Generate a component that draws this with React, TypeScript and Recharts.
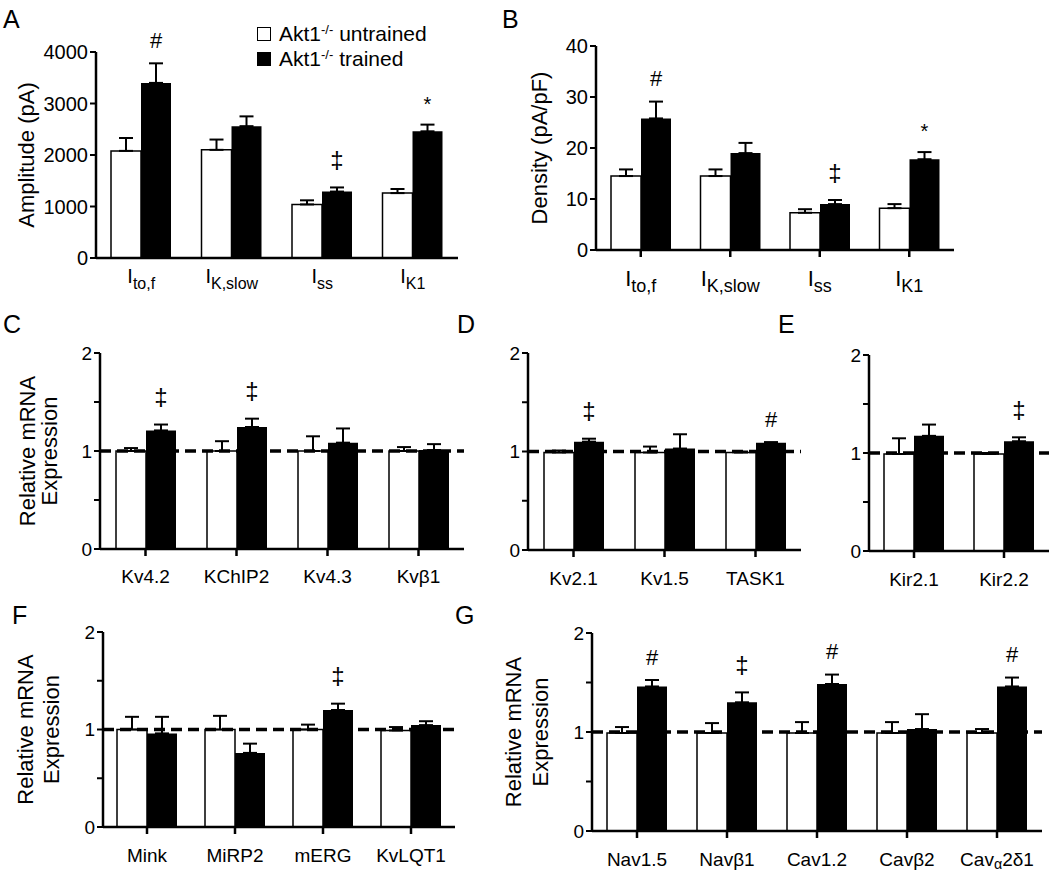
import { BarChart, Bar, XAxis, YAxis, ErrorBar, LabelList, ReferenceLine } from "recharts";

// legend
const genotype = "Akt1";
const genotypeSup = "-/-";
const groups = ["untrained", "trained"];

// A - current amplitude (pA)
const currents = ["Ito,f", "IK,slow", "Iss", "IK1"];
const ampUntrained = [2080, 2100, 1040, 1260];
const ampUntrainedErr = [250, 200, 80, 80];
const ampTrained = [3400, 2560, 1290, 2460];
const ampTrainedErr = [380, 190, 80, 130];
const ampSig = ["#", "", "‡", "*"];
const ampTicks = [0, 1000, 2000, 3000, 4000];

// B - current density (pA/pF)
const denUntrained = [14.5, 14.5, 7.3, 8.2];
const denUntrainedErr = [1.3, 1.3, 0.7, 0.8];
const denTrained = [25.8, 19.0, 9.0, 17.8];
const denTrainedErr = [3.3, 2.0, 0.8, 1.4];
const denSig = ["#", "", "‡", "*"];
const denTicks = [0, 10, 20, 30, 40];

// C
const cGenes = ["Kv4.2", "KChIP2", "Kv4.3", "Kvβ1"];
const cUntrained = [1.0, 1.0, 1.0, 1.0];
const cUntrainedErr = [0.03, 0.1, 0.15, 0.04];
const cTrained = [1.21, 1.245, 1.085, 1.01];
const cTrainedErr = [0.06, 0.085, 0.145, 0.06];
const cSig = ["‡", "‡", "", ""];

// D
const dGenes = ["Kv2.1", "Kv1.5", "TASK1"];
const dUntrained = [0.99, 0.99, 0.99];
const dUntrainedErr = [0.02, 0.06, 0.01];
const dTrained = [1.1, 1.03, 1.09];
const dTrainedErr = [0.03, 0.145, 0.005];
const dSig = ["‡", "", "#"];

// E
const eGenes = ["Kir2.1", "Kir2.2"];
const eUntrained = [0.99, 0.99];
const eUntrainedErr = [0.16, 0.01];
const eTrained = [1.175, 1.12];
const eTrainedErr = [0.115, 0.04];
const eSig = ["", "‡"];

// F
const fGenes = ["Mink", "MiRP2", "mERG", "KvLQT1"];
const fUntrained = [1.0, 1.0, 1.0, 0.99];
const fUntrainedErr = [0.13, 0.14, 0.05, 0.035];
const fTrained = [0.96, 0.76, 1.2, 1.045];
const fTrainedErr = [0.17, 0.095, 0.065, 0.04];
const fSig = ["", "", "‡", ""];

// G
const gGenes = ["Nav1.5", "Navβ1", "Cav1.2", "Cavβ2", "Cavα2δ1"];
const gUntrained = [0.99, 0.99, 0.99, 0.99, 0.99];
const gUntrainedErr = [0.06, 0.1, 0.11, 0.11, 0.04];
const gTrained = [1.46, 1.3, 1.485, 1.03, 1.46];
const gTrainedErr = [0.065, 0.1, 0.095, 0.15, 0.09];
const gSig = ["#", "‡", "#", "", "#"];

const relTicks = [0, 0.5, 1, 1.5, 2];
const relTitle = ["Relative mRNA", "Expression"];

const FONT = '"Liberation Sans", Arial, sans-serif';
const AXIS_W = 110;

const CategoryTick = (props: any) => {
   const { x, y, payload, fontSize, subSize, dy, current } = props;
   const label = String(payload.value);
   if (current) {
      return (
         <text x={x} y={y + dy} textAnchor="middle" fontSize={fontSize} fill="#000">
            <tspan>I</tspan>
            <tspan fontSize={subSize} dy={6}>
               {label.slice(1)}
            </tspan>
         </text>
      );
   }
   const ai = label.indexOf("α");
   if (ai >= 0) {
      return (
         <text x={x} y={y + dy} textAnchor="middle" fontSize={fontSize} fill="#000">
            <tspan>{label.slice(0, ai)}</tspan>
            <tspan fontSize={fontSize * 0.75} dy={3}>
               α
            </tspan>
            <tspan dy={-3}>{label.slice(ai + 1)}</tspan>
         </text>
      );
   }
   return (
      <text x={x} y={y + dy} textAnchor="middle" fontSize={fontSize} fill="#000">
         {label}
      </text>
   );
};

type PanelProps = {
   x: number; // y-axis line
   y: number; // top of value range
   w: number;
   h: number;
   cats: string[];
   untrained: number[];
   untrainedErr: number[];
   trained: number[];
   trainedErr: number[];
   sig: string[];
   yMax: number;
   yTicks: number[];
   title?: string[];
   titleOffsets?: number[];
   refLine?: boolean;
   current?: boolean;
   yFont: number;
   catFont: number;
   subSize?: number;
   catDy: number;
   xTickLine?: boolean;
};

function Panel(p: PanelProps) {
   const data = p.cats.map((c, i) => ({
      cat: c,
      u: p.untrained[i],
      uErr: [0, p.untrainedErr[i]],
      t: p.trained[i],
      tErr: [0, p.trainedErr[i]],
      sig: p.sig[i],
   }));

   const renderSig = (lp: any) => {
      const vb = lp.viewBox || lp;
      const idx = lp.index;
      const s = p.sig[idx];
      if (!s) return null;
      const top = Math.min(vb.y, vb.y + vb.height);
      const pxPerUnit = Math.abs(vb.height) / p.trained[idx];
      const errTop = top - p.trainedErr[idx] * pxPerUnit;
      const off = s === "‡" ? 28 : s === "*" ? 21 : 23;
      const size = s === "‡" ? 24 : s === "*" ? 20 : 22;
      return (
         <text
            key={`sig-${idx}`}
            x={vb.x + vb.width / 2}
            y={errTop - off}
            textAnchor="middle"
            dominantBaseline="central"
            fontSize={size}
            fill="#000"
         >
            {s}
         </text>
      );
   };

   const renderTitle = (lp: any) => {
      if (!p.title) return null;
      const vb = lp.viewBox;
      const axisX = vb.x + vb.width;
      const cy = vb.y + vb.height / 2;
      return (
         <g>
            {p.title.map((line, i) => {
               const cx = axisX - (p.titleOffsets ? p.titleOffsets[i] : 60);
               return (
                  <text
                     key={line}
                     x={cx}
                     y={cy}
                     transform={`rotate(-90, ${cx}, ${cy})`}
                     textAnchor="middle"
                     dominantBaseline="central"
                     fontSize={22}
                     fill="#000"
                  >
                     {line}
                  </text>
               );
            })}
         </g>
      );
   };

   return (
      <div
         style={{
            position: "absolute",
            left: p.x - AXIS_W,
            top: p.y - 40,
            width: p.w + AXIS_W + 20,
            height: p.h + 90,
         }}
      >
         <BarChart
            width={p.w + AXIS_W + 20}
            height={p.h + 90}
            data={data}
            margin={{ top: 40, right: 20, bottom: 0, left: 0 }}
            barGap={0}
         >
            <XAxis
               dataKey="cat"
               interval={0}
               height={50}
               tickSize={7}
               tickMargin={0}
               axisLine={{ stroke: "#000", strokeWidth: 2.5 }}
               tickLine={p.xTickLine === false ? false : { stroke: "#000", strokeWidth: 2.5 }}
               tick={(tp: any) => (
                  <CategoryTick
                     {...tp}
                     fontSize={p.catFont}
                     subSize={p.subSize}
                     dy={p.catDy}
                     current={p.current}
                  />
               )}
            />
            <YAxis
               type="number"
               domain={[0, p.yMax]}
               ticks={p.yTicks}
               allowDataOverflow
               width={AXIS_W}
               tickSize={6}
               tickMargin={2}
               axisLine={{ stroke: "#000", strokeWidth: 2.5 }}
               tickLine={{ stroke: "#000", strokeWidth: 2 }}
               tick={{ fill: "#000", fontSize: p.yFont }}
               tickFormatter={(v: number) => (Number.isInteger(v) ? String(v) : "")}
               label={renderTitle}
            />
            <Bar
               dataKey="u"
               fill="#fff"
               stroke="#000"
               strokeWidth={1.5}
               barSize={30}
               isAnimationActive={false}
            >
               <ErrorBar dataKey="uErr" width={7} strokeWidth={2} stroke="#000" direction="y" />
            </Bar>
            <Bar dataKey="t" fill="#000" barSize={30} isAnimationActive={false}>
               <ErrorBar dataKey="tErr" width={7} strokeWidth={2} stroke="#000" direction="y" />
               <LabelList dataKey="sig" content={renderSig} />
            </Bar>
            {p.refLine && (
               <ReferenceLine y={1} stroke="#000" strokeWidth={3.5} strokeDasharray="11 6" />
            )}
         </BarChart>
      </div>
   );
}

const panelLetters = [
   { t: "A", x: 3, y: 28 },
   { t: "B", x: 502, y: 28 },
   { t: "C", x: 3, y: 333 },
   { t: "D", x: 457, y: 333 },
   { t: "E", x: 778, y: 333 },
   { t: "F", x: 12, y: 624 },
   { t: "G", x: 455, y: 624 },
];

export default function App() {
   return (
      <div
         style={{
            position: "absolute",
            left: 0,
            top: 0,
            width: 1050,
            height: 872,
            overflow: "hidden",
            background: "#fff",
            fontFamily: FONT,
            color: "#000",
         }}
      >
         <svg
            width={1050}
            height={872}
            style={{ position: "absolute", left: 0, top: 0 }}
         >
            {panelLetters.map((l) => (
               <text key={l.t} x={l.x} y={l.y} fontSize={25} fill="#000">
                  {l.t}
               </text>
            ))}
         </svg>

         <Panel
            x={96} y={52} w={362} h={206}
            cats={currents}
            untrained={ampUntrained} untrainedErr={ampUntrainedErr}
            trained={ampTrained} trainedErr={ampTrainedErr}
            sig={ampSig}
            yMax={4000} yTicks={ampTicks}
            title={["Amplitude (pA)"]} titleOffsets={[70]}
            current yFont={20} catFont={20} subSize={16} catDy={18}
            xTickLine={false}
         />
         <Panel
            x={596} y={46} w={358} h={204}
            cats={currents}
            untrained={denUntrained} untrainedErr={denUntrainedErr}
            trained={denTrained} trainedErr={denTrainedErr}
            sig={denSig}
            yMax={40} yTicks={denTicks}
            title={["Density (pA/pF)"]} titleOffsets={[57]}
            current yFont={20} catFont={22} subSize={18} catDy={29}
         />
         <Panel
            x={100} y={353} w={364} h={196}
            cats={cGenes}
            untrained={cUntrained} untrainedErr={cUntrainedErr}
            trained={cTrained} trainedErr={cTrainedErr}
            sig={cSig}
            yMax={2} yTicks={relTicks}
            title={relTitle} titleOffsets={[73, 51]}
            refLine yFont={19} catFont={19} catDy={27}
         />
         <Panel
            x={528} y={353} w={273} h={197}
            cats={dGenes}
            untrained={dUntrained} untrainedErr={dUntrainedErr}
            trained={dTrained} trainedErr={dTrainedErr}
            sig={dSig}
            yMax={2} yTicks={relTicks}
            refLine yFont={19} catFont={19} catDy={28}
         />
         <Panel
            x={869} y={355} w={180} h={196}
            cats={eGenes}
            untrained={eUntrained} untrainedErr={eUntrainedErr}
            trained={eTrained} trainedErr={eTrainedErr}
            sig={eSig}
            yMax={2} yTicks={relTicks}
            refLine yFont={19} catFont={19} catDy={28}
         />
         <Panel
            x={103} y={632} w={352} h={195}
            cats={fGenes}
            untrained={fUntrained} untrainedErr={fUntrainedErr}
            trained={fTrained} trainedErr={fTrainedErr}
            sig={fSig}
            yMax={2} yTicks={relTicks}
            title={relTitle} titleOffsets={[78, 52]}
            refLine yFont={19} catFont={19} catDy={28}
         />
         <Panel
            x={592} y={633} w={450} h={198}
            cats={gGenes}
            untrained={gUntrained} untrainedErr={gUntrainedErr}
            trained={gTrained} trainedErr={gTrainedErr}
            sig={gSig}
            yMax={2} yTicks={relTicks}
            title={relTitle} titleOffsets={[79, 52]}
            refLine yFont={19} catFont={19} catDy={28}
         />

         <div style={{ position: "absolute", left: 257, top: 21, fontSize: 21 }}>
            {groups.map((g, i) => (
               <div
                  key={g}
                  style={{ display: "flex", alignItems: "center", height: 25, whiteSpace: "nowrap" }}
               >
                  <span
                     style={{
                        display: "inline-block",
                        width: 14,
                        height: 14,
                        boxSizing: "border-box",
                        border: "1.5px solid #000",
                        background: i === 0 ? "#fff" : "#000",
                        marginRight: 8,
                     }}
                  />
                  <span>
                     {genotype}
                     <sup style={{ fontSize: 13, verticalAlign: "7px" }}>{genotypeSup}</sup> {g}
                  </span>
               </div>
            ))}
         </div>
      </div>
   );
}
